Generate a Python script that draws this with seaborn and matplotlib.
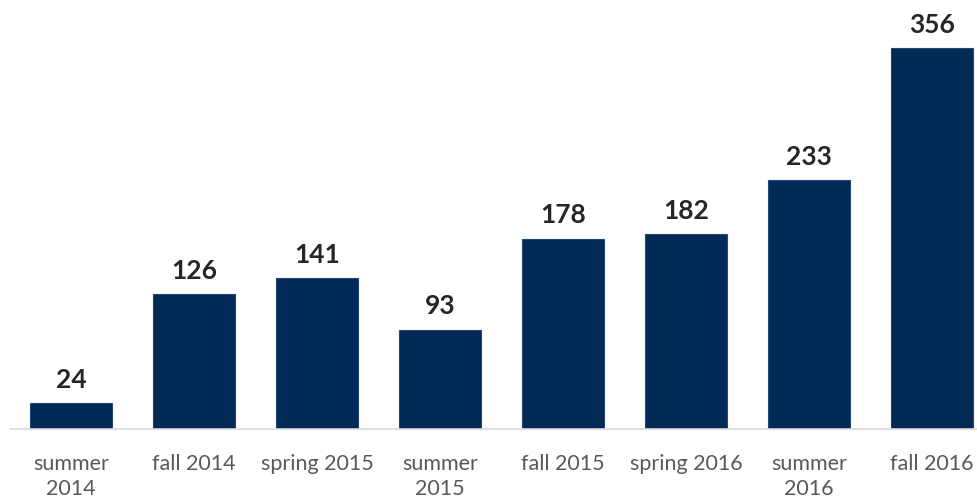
import matplotlib
matplotlib.use("Agg")
import matplotlib.pyplot as plt
import seaborn as sns
import pandas as pd

categories = ["summer\n2014", "fall 2014", "spring 2015", "summer\n2015",
              "fall 2015", "spring 2016", "summer\n2016", "fall 2016"]
values = [24, 126, 141, 93, 178, 182, 233, 356]

sns.set_style("white")
plt.rcParams['font.family'] = ['Lato', 'DejaVu Sans']

df = pd.DataFrame({"term": categories, "count": values})

fig = plt.figure(figsize=(9.77, 5.0), dpi=100)
ax = fig.add_axes([9.5/977, 71/500, 984/977, 429/500])
sns.barplot(data=df, x="term", y="count", color="#022a56", saturation=1,
            width=0.67, edgecolor="#1f4a78", linewidth=0.8, ax=ax)
ax.set_ylim(0, 401)
ax.set_xlim(-0.5, 7.5)
for c in ax.containers:
    ax.bar_label(c, fmt="%d", padding=8, fontsize=19, fontweight="bold", color="#262626")
ax.set_xlabel("")
ax.set_ylabel("")
ax.set_yticks([])
for s in ["top", "right", "left"]:
    ax.spines[s].set_visible(False)
ax.spines["bottom"].set_color("#d9d9d9")
ax.spines["bottom"].set_linewidth(1.2)
ax.tick_params(axis="x", length=0, pad=18, labelsize=15.5, labelcolor="#595959")
for t in ax.get_xticklabels():
    t.set_linespacing(1.3)
fig.savefig("out.png", dpi=100)
